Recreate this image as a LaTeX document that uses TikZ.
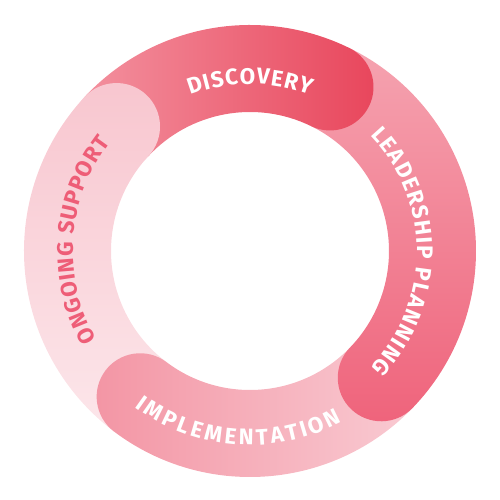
\documentclass[tikz,border=0pt]{standalone}
\usepackage{fontspec}
\setmainfont{Fira Sans}
\usetikzlibrary{decorations.text}
\definecolor{dL}{HTML}{F3909E}
\definecolor{dR}{HTML}{E8455B}
\definecolor{lT}{HTML}{F5A3B0}
\definecolor{lB}{HTML}{EF637B}
\definecolor{iL}{HTML}{F395A4}
\definecolor{iR}{HTML}{F9CAD2}
\definecolor{oT}{HTML}{F8C6CF}
\definecolor{oB}{HTML}{FCE6EA}
\definecolor{oText}{HTML}{EE5D77}
\def\segpath#1#2{(#1:226) arc[start angle=#1, end angle=#2, radius=226] arc[start angle=#2, end angle=#2-180, radius=43.5] arc[start angle=#2, end angle=#1, radius=139] -- cycle}
\tikzset{
  lbl/.style n args={3}{font=\fontsize{22.5}{22.5}\selectfont\bfseries,
    decoration={text effects along path, text={#1}, text align=center,
    text effects/.cd, text along path, character widths={inner xsep=#3},
    characters={inner xsep=#3, text=#2}}, decorate}
}
\begin{document}
\begin{tikzpicture}[x=1pt,y=1pt]
\useasboundingbox (-250,-249) rectangle (250,251);
% segments: ongoing, implementation, leadership, discovery
\shade[top color=oT, bottom color=oB] \segpath{233}{137};
\shade[left color=iL, right color=iR] \segpath{-44}{-127};
\shade[top color=lT, bottom color=lB] \segpath{64}{-44};
\shade[left color=dL, right color=dR] \segpath{137}{64};
% cap of ongoing support over discovery
\begin{scope}
  \clip (137:182.5) circle[radius=43.6];
  \shade[top color=oT, bottom color=oB] \segpath{233}{137};
\end{scope}
% labels
\path[lbl={DISCOVERY}{white}{0.5pt}] (150:167) arc[start angle=150, end angle=30, radius=167];
\path[lbl={LEADERSHIP PLANNING}{white}{0.6pt}] (60:167) arc[start angle=60, end angle=-60, radius=167];
\path[lbl={IMPLEMENTATION}{white}{1.5pt}] (200:194) arc[start angle=200, end angle=332, radius=194];
\path[lbl={ONGOING SUPPORT}{oText}{0.4pt}] (240:177) arc[start angle=240, end angle=112, radius=177];
\end{tikzpicture}
\end{document}
